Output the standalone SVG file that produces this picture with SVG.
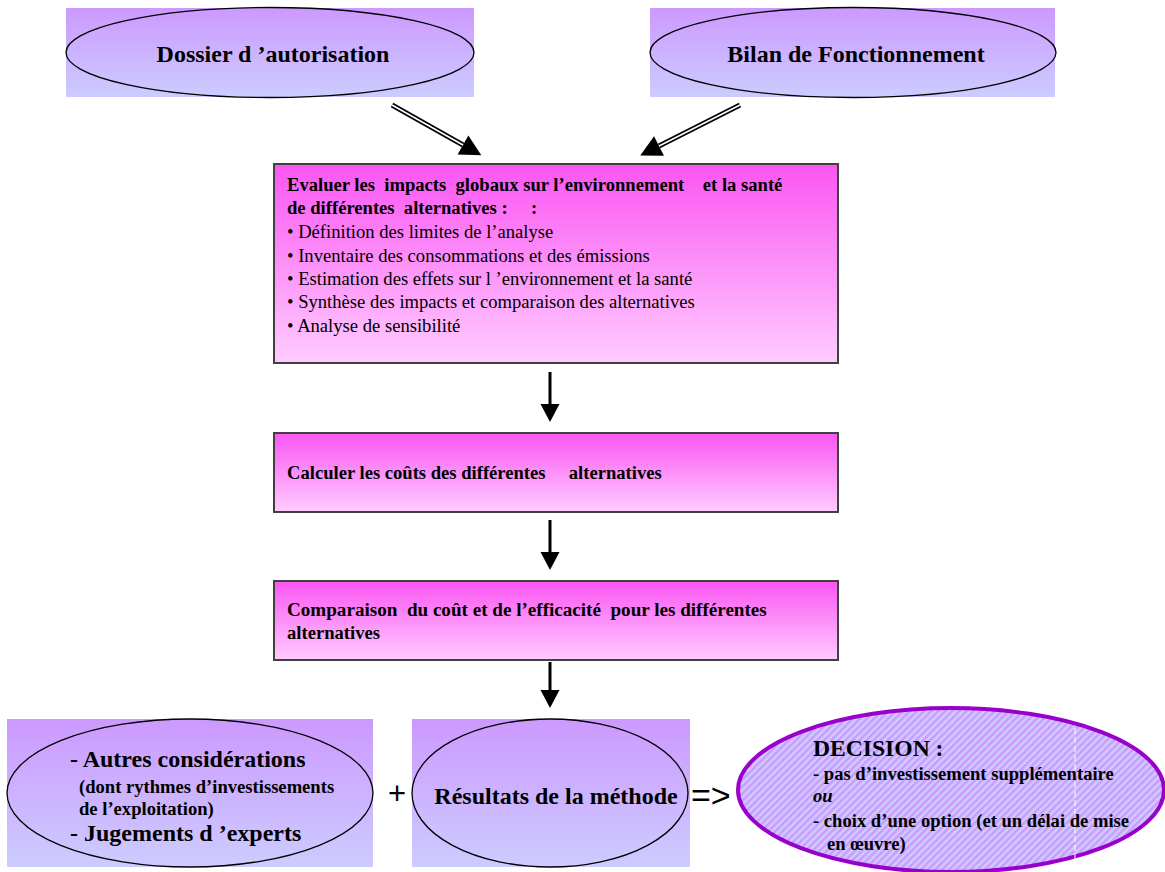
<svg xmlns="http://www.w3.org/2000/svg" width="1165" height="872" viewBox="0 0 1165 872">
<style>
.t{font-family:"Liberation Serif","Times New Roman",serif;fill:#000;white-space:pre}
.b{font-weight:bold}
.big{font-size:24px;font-weight:bold}
.mid{font-size:18.6px}
.box{stroke:#404040;stroke-width:2}
.ell{fill:none;stroke:#000;stroke-width:1.3}
.sym{font-family:"Liberation Sans",Arial,sans-serif;fill:#000}
.arr{stroke:#000;stroke-width:3;fill:none}
</style>
<defs>
<linearGradient id="gLil" x1="0" y1="0" x2="0" y2="1">
<stop offset="0" stop-color="#cc99ff"/>
<stop offset="1" stop-color="#ccccff"/>
</linearGradient>
<linearGradient id="gMag" x1="0" y1="0" x2="0" y2="1">
<stop offset="0" stop-color="#fa55f2"/>
<stop offset="1" stop-color="#ffccff"/>
</linearGradient>
<pattern id="stripes" patternUnits="userSpaceOnUse" width="5" height="5" patternTransform="rotate(45)">
<rect width="5" height="5" fill="#ccccff"/>
<rect width="2.4" height="5" fill="#cc99ff"/>
</pattern>
<marker id="ah" markerUnits="userSpaceOnUse" markerWidth="20" markerHeight="20" refX="0" refY="9.5" orient="auto" overflow="visible">
<path d="M0,0 L18,9.5 L0,19 z" fill="#000"/>
</marker>
<marker id="ah2" markerUnits="userSpaceOnUse" markerWidth="24" markerHeight="24" refX="0" refY="11" orient="auto" overflow="visible">
<path d="M0,0 L21,11 L0,22 z" fill="#000"/>
</marker>
</defs>
<rect width="1165" height="872" fill="#fff"/>

<g id="connectors">
<line x1="392" y1="105" x2="463" y2="145" stroke="#000" stroke-width="5" marker-end="url(#ah2)"/>
<line x1="392" y1="105" x2="463" y2="145" stroke="#fff" stroke-width="1.6"/>
<line x1="740" y1="105" x2="659" y2="146" stroke="#000" stroke-width="5" marker-end="url(#ah2)"/>
<line x1="740" y1="105" x2="659" y2="146" stroke="#fff" stroke-width="1.6"/>
<line class="arr" x1="550" y1="372" x2="550" y2="404" marker-end="url(#ah)"/>
<line class="arr" x1="550" y1="520" x2="550" y2="552" marker-end="url(#ah)"/>
<line class="arr" x1="550" y1="662" x2="550" y2="690" marker-end="url(#ah)"/>
</g>

<g id="dossier">
<rect x="66" y="8" width="408" height="89" fill="url(#gLil)"/>
<ellipse class="ell" cx="270" cy="52.5" rx="204" ry="45"/>
<text class="t big" x="273" y="62" text-anchor="middle">Dossier d ’autorisation</text>
</g>

<g id="bilan">
<rect x="650" y="8" width="405" height="89" fill="url(#gLil)"/>
<ellipse class="ell" cx="853" cy="52.5" rx="203" ry="45"/>
<text class="t big" x="856" y="62" text-anchor="middle">Bilan de Fonctionnement</text>
</g>

<g id="evaluer">
<rect class="box" x="274" y="164" width="564" height="199" fill="url(#gMag)"/>
<text class="t b mid" x="287" y="191">Evaluer les  impacts  globaux sur l’environnement    et la santé</text>
<text class="t b mid" x="287" y="214">de différentes  alternatives :     :</text>
<text class="t mid" x="287" y="238">• Définition des limites de l’analyse</text>
<text class="t mid" x="287" y="262">• Inventaire des consommations et des émissions</text>
<text class="t mid" x="287" y="285">• Estimation des effets sur l ’environnement et la santé</text>
<text class="t mid" x="287" y="308">• Synthèse des impacts et comparaison des alternatives</text>
<text class="t mid" x="287" y="332">• Analyse de sensibilité</text>
</g>

<g id="calculer">
<rect class="box" x="274" y="433" width="564" height="79" fill="url(#gMag)"/>
<text class="t b mid" x="287" y="479">Calculer les coûts des différentes     alternatives</text>
</g>

<g id="comparaison">
<rect class="box" x="274" y="581" width="564" height="79" fill="url(#gMag)"/>
<text class="t b" x="287" y="616" style="font-size:19.1px">Comparaison  du coût et de l’efficacité  pour les différentes</text>
<text class="t b mid" x="287" y="639">alternatives</text>
</g>

<g id="autres">
<rect x="7" y="719" width="366" height="148" fill="url(#gLil)"/>
<ellipse class="ell" cx="190" cy="793" rx="183" ry="74"/>
<text class="t big" x="70" y="767">- Autres considérations</text>
<text class="t b mid" x="79" y="793">(dont rythmes d’investissements</text>
<text class="t b mid" x="79" y="815">de l’exploitation)</text>
<text class="t big" x="70" y="841">- Jugements d ’experts</text>
</g>

<text class="sym" x="397" y="804" font-size="31" text-anchor="middle">+</text>

<g id="resultats">
<rect x="412" y="719" width="278" height="148" fill="url(#gLil)"/>
<ellipse class="ell" cx="550" cy="793" rx="138" ry="74"/>
<text class="t big" x="556" y="804" text-anchor="middle">Résultats de la méthode</text>
</g>

<text class="sym" x="691" y="807" font-size="34">=&gt;</text>

<g id="decision">
<ellipse cx="951" cy="790" rx="213" ry="82" fill="url(#stripes)" stroke="#9900cc" stroke-width="4"/>
<line x1="1075" y1="728" x2="1075" y2="860" stroke="#fff" stroke-width="1" stroke-dasharray="6 3"/>
<text class="t" x="813" y="756" font-size="23.6" font-weight="bold">DECISION :</text>
<text class="t b mid" x="813" y="780">- pas d’investissement supplémentaire</text>
<text class="t b mid" x="813" y="802" font-style="italic">ou</text>
<text class="t b mid" x="813" y="827">- choix d’une option (et un délai de mise</text>
<text class="t b mid" x="827" y="850">en œuvre)</text>
</g>
</svg>
